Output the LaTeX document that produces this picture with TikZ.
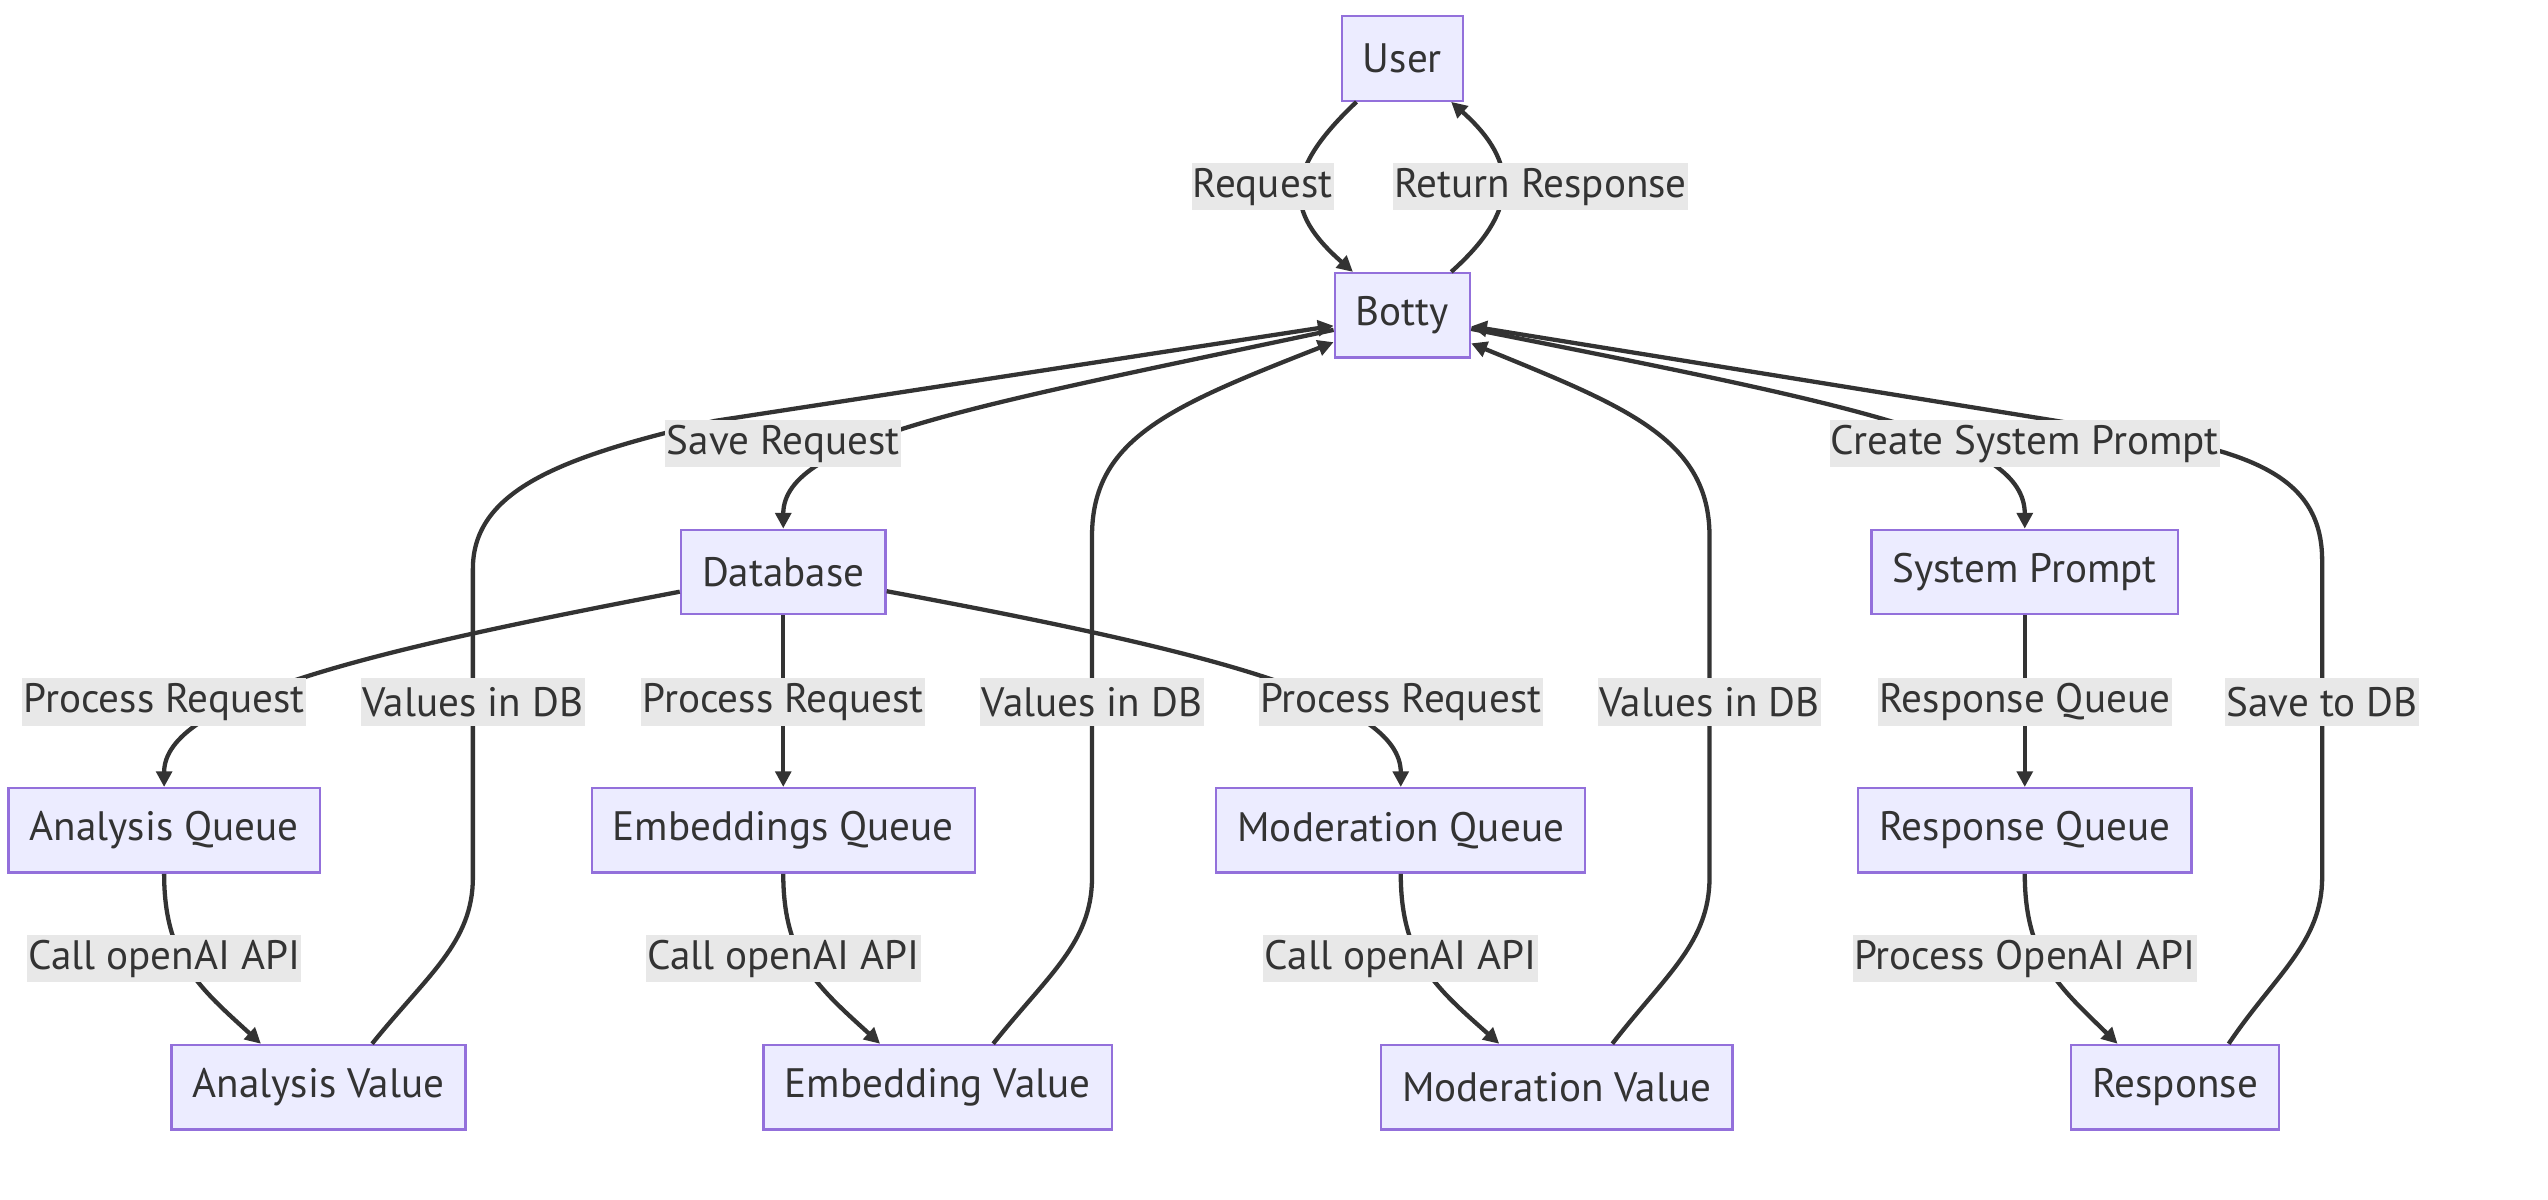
\documentclass[tikz,border=0pt]{standalone}
\usepackage{fontspec}
\setmainfont{PT Sans}
\usepackage{tikz}
\usetikzlibrary{arrows.meta}

\definecolor{boxfill}{HTML}{ECECFF}
\definecolor{boxline}{HTML}{9370DB}
\definecolor{lblfill}{HTML}{E8E8E8}
\definecolor{ink}{HTML}{333333}
\newcommand{\boxfont}{\fontsize{14.4pt}{17pt}\selectfont}

\begin{document}
\begin{tikzpicture}[
        >={Triangle[length=5.5pt, width=5.5pt]},
        box/.style={draw=boxline, fill=boxfill, line width=0.8pt, minimum height=1.04cm, inner xsep=0.26cm, text=ink, font=\boxfont},
        lbl/.style={fill=lblfill, inner xsep=0.5pt, inner ysep=0pt, minimum height=0.58cm, text=ink, font=\boxfont},
        flow/.style={draw=ink, line width=1.5pt, ->}
    ]
        \useasboundingbox (0,0) rectangle (31.36,-14.76);

        % Các nút
        \node [box] (user) at (17.26,-0.72) {User};
        \node [box] (botty) at (17.26,-3.88) {Botty};
        \node [box] (database) at (9.64,-7.04) {Database};
        \node [box] (sysprompt) at (24.92,-7.04) {System Prompt};
        \node [box] (aqueue) at (2.02,-10.22) {Analysis Queue};
        \node [box] (equeue) at (9.64,-10.22) {Embeddings Queue};
        \node [box] (mqueue) at (17.24,-10.22) {Moderation Queue};
        \node [box] (rqueue) at (24.92,-10.22) {Response Queue};
        \node [box] (avalue) at (3.92,-13.38) {Analysis Value};
        \node [box] (evalue) at (11.54,-13.38) {Embedding Value};
        \node [box] (mvalue) at (19.16,-13.38) {Moderation Value};
        \node [box] (response) at (26.77,-13.38) {Response};

        % Các cạnh
        \draw[flow] (user) .. controls (15.80,-2.10) and (15.80,-2.60) .. (botty);
        \draw[flow] (botty) .. controls (18.70,-2.60) and (18.70,-2.00) .. (user);
        \draw[flow] (botty) .. controls (12.00,-5.00) and (9.64,-5.40) .. (database);
        \draw[flow] (botty) .. controls (22.90,-5.00) and (24.92,-5.40) .. (sysprompt);
        \draw[flow] (database) .. controls (4.60,-8.00) and (2.02,-8.60) .. (aqueue);
        \draw[flow] (database) -- (equeue);
        \draw[flow] (database) .. controls (14.80,-8.00) and (17.24,-8.60) .. (mqueue);
        \draw[flow] (sysprompt) -- (rqueue);
        \draw[flow] (aqueue) .. controls (2.02,-11.80) and (2.46,-12.16) .. (avalue.143);
        \draw[flow] (equeue) .. controls (9.64,-11.80) and (10.08,-12.16) .. (evalue.143);
        \draw[flow] (mqueue) .. controls (17.24,-11.80) and (17.68,-12.16) .. (mvalue.143);
        \draw[flow] (rqueue) .. controls (24.92,-11.80) and (25.36,-12.16) .. (response.143);

        % Trả kết quả về Botty
        \draw[flow] (avalue.39) .. controls (5.26,-12.00) and (5.82,-11.60) .. (5.82,-10.80) -- (5.82,-7.00)
            .. controls (5.82,-6.00) and (7.00,-5.60) .. (8.80,-5.18) -- (botty);
        \draw[flow] (evalue.38) .. controls (12.90,-12.00) and (13.44,-11.60) .. (13.44,-10.80) -- (13.44,-6.60)
            .. controls (13.44,-5.40) and (14.40,-5.00) .. (botty);
        \draw[flow] (mvalue.38) .. controls (20.50,-12.00) and (21.04,-11.60) .. (21.04,-10.80) -- (21.04,-6.60)
            .. controls (21.04,-5.40) and (20.00,-5.00) .. (botty);
        \draw[flow] (response.39) .. controls (28.00,-12.00) and (28.58,-11.60) .. (28.58,-10.80) -- (28.58,-6.90)
            .. controls (28.58,-5.80) and (27.60,-5.50) .. (25.68,-5.24) -- (botty);

        % Nhãn trên cạnh
        \node [lbl] (lRequest) at (15.54,-2.30) {Request};
        \node [lbl] (lReturn) at (18.96,-2.30) {Return Response};
        \node [lbl] (lSave) at (9.64,-5.46) {Save Request};
        \node [lbl] (lCreate) at (24.92,-5.46) {Create System Prompt};
        \node [lbl] (lProcA) at (2.02,-8.64) {Process Request};
        \node [lbl] (lValA) at (5.82,-8.64) {Values in DB};
        \node [lbl] (lProcE) at (9.64,-8.64) {Process Request};
        \node [lbl] (lValE) at (13.44,-8.64) {Values in DB};
        \node [lbl] (lProcM) at (17.24,-8.64) {Process Request};
        \node [lbl] (lValM) at (21.04,-8.64) {Values in DB};
        \node [lbl] (lRespQ) at (24.92,-8.64) {Response Queue};
        \node [lbl] (lSaveDB) at (28.58,-8.64) {Save to DB};
        \node [lbl] (lCallA) at (2.02,-11.80) {Call openAI API};
        \node [lbl] (lCallE) at (9.64,-11.80) {Call openAI API};
        \node [lbl] (lCallM) at (17.24,-11.80) {Call openAI API};
        \node [lbl] (lProcO) at (24.92,-11.80) {Process OpenAI API};
    \end{tikzpicture}
\end{document}
